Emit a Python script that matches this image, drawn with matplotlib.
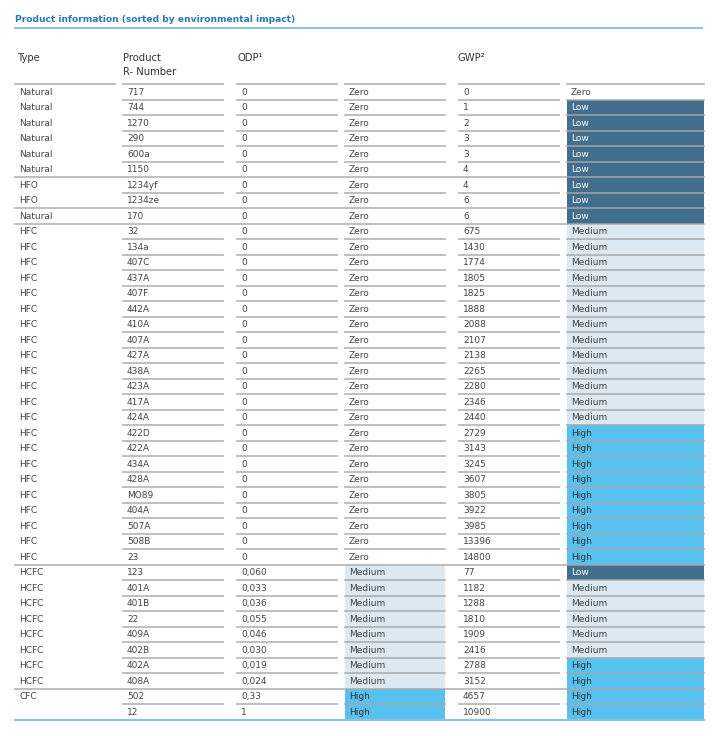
import matplotlib.pyplot as plt
from matplotlib.patches import Rectangle

# --- DATA ---
types = (["Natural"] * 6 + ["HFO"] * 2 + ["Natural"] + ["HFC"] * 22
         + ["HCFC"] * 8 + ["CFC", ""])
products = ["717", "744", "1270", "290", "600a", "1150", "1234yf", "1234ze", "170",
            "32", "134a", "407C", "437A", "407F", "442A", "410A", "407A", "427A",
            "438A", "423A", "417A", "424A", "422D", "422A", "434A", "428A", "MO89",
            "404A", "507A", "508B", "23",
            "123", "401A", "401B", "22", "409A", "402B", "402A", "408A",
            "502", "12"]
odp = (["0"] * 31
       + ["0,060", "0,033", "0,036", "0,055", "0,046", "0,030", "0,019", "0,024"]
       + ["0,33", "1"])
odp_class = ["Zero"] * 31 + ["Medium"] * 8 + ["High"] * 2
gwp = ["0", "1", "2", "3", "3", "4", "4", "6", "6",
       "675", "1430", "1774", "1805", "1825", "1888", "2088", "2107", "2138",
       "2265", "2280", "2346", "2440", "2729", "3143", "3245", "3607", "3805",
       "3922", "3985", "13396", "14800",
       "77", "1182", "1288", "1810", "1909", "2416", "2788", "3152",
       "4657", "10900"]
gwp_class = (["Zero"] + ["Low"] * 8 + ["Medium"] * 13 + ["High"] * 9
             + ["Low"] + ["Medium"] * 5 + ["High"] * 2 + ["High"] * 2)

# --- STYLE ---
fill = {"Zero": None, "Low": "#426f8e", "Medium": "#dde9f2", "High": "#57c2ef"}
txt_col = {"Zero": "#444444", "Low": "#ffffff", "Medium": "#444444", "High": "#333333"}
font = ["Liberation Sans Narrow", "DejaVu Sans"]

# column spans (x0, x1) in pixels
cols = [(15, 115), (123, 223), (237, 337), (345, 445), (459, 559), (567, 704)]
top = 84
rh = 15.5

fig = plt.figure(figsize=(7.21, 7.36), dpi=100)
ax = fig.add_axes([0, 0, 1, 1])
ax.set_xlim(0, 721)
ax.set_ylim(736, 0)
ax.axis('off')

# title
ax.text(15, 19, "Product information (sorted by environmental impact)", color="#2a78b4",
        fontsize=6.6, fontweight='bold', va='center', family=font)
ax.plot([15, 702], [28, 28], color="#8cc2e3", lw=1.4)

# header
hc = "#333333"
ax.text(17, 58, "Type", fontsize=7.2, color=hc, va='center', family=font)
ax.text(123, 58, "Product", fontsize=7.2, color=hc, va='center', family=font)
ax.text(123, 72, "R- Number", fontsize=7.2, color=hc, va='center', family=font)
ax.text(237, 58, "ODP\u00b9", fontsize=7.2, color=hc, va='center', family=font)
ax.text(458, 58, "GWP\u00b2", fontsize=7.2, color=hc, va='center', family=font)

n = len(products)
line_c = "#a8a8a8"

# coloured class cells
for i in range(n):
    y0 = top + i * rh
    for c, cls in ((3, odp_class[i]), (5, gwp_class[i])):
        if fill[cls]:
            x0, x1 = cols[c]
            ax.add_patch(Rectangle((x0, y0), x1 - x0, rh, color=fill[cls], lw=0, zorder=1))

# text
for i in range(n):
    yc = top + i * rh + rh / 2 + 0.3
    values = [types[i], products[i], odp[i], odp_class[i], gwp[i], gwp_class[i]]
    klass = [None, None, None, odp_class[i], None, gwp_class[i]]
    for c, v in enumerate(values):
        col = txt_col[klass[c]] if klass[c] else "#444444"
        ax.text(cols[c][0] + 4, yc, v, fontsize=6.5, color=col, va='center',
                family=font, zorder=3)

# separator lines
for i in range(n):
    y = top + i * rh
    new_group = i > 0 and types[i] != types[i - 1] and types[i] != ""
    if new_group:
        ax.plot([cols[0][0], cols[-1][1]], [y, y], color=line_c, lw=1.3, alpha=0.8, zorder=2)
    else:
        start = 0 if i == 0 else 1
        for x0, x1 in cols[start:]:
            ax.plot([x0, x1], [y, y], color=line_c, lw=1.3, alpha=0.8, zorder=2)

# bottom line
yb = top + n * rh
ax.plot([cols[0][0], cols[-1][1]], [yb, yb], color="#8cc2e3", lw=1.6, zorder=2)

plt.savefig("out.png", dpi=100)
